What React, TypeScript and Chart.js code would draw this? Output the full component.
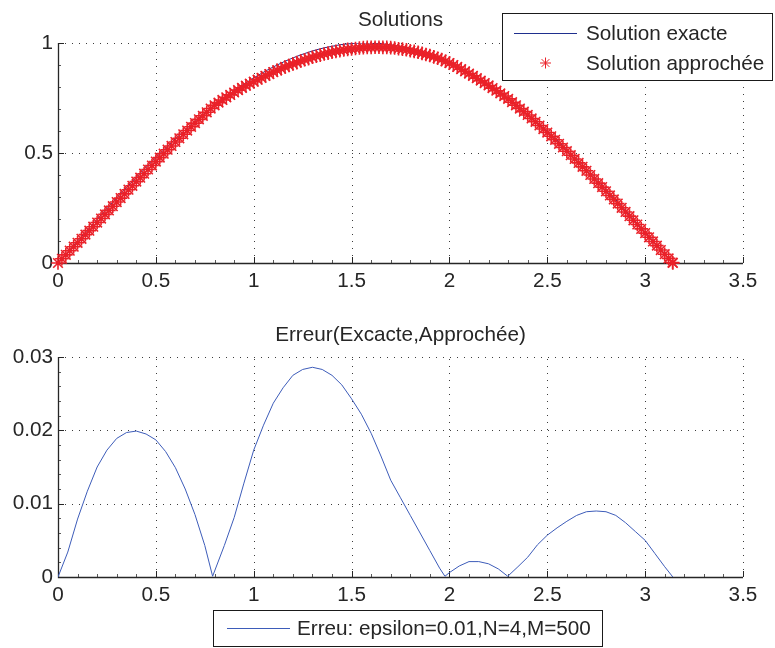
import React, { useEffect, useRef } from 'react';
import { Chart, registerables } from 'chart.js';

Chart.register(...registerables);

// ---------- data ----------
// exact solution (blue line)
const solX = [
  0, 0.04, 0.08, 0.12, 0.16, 0.2, 0.24, 0.28, 0.32, 0.36, 0.4, 0.44, 0.48, 0.52, 0.56, 0.6,
  0.64, 0.68, 0.72, 0.76, 0.8, 0.84, 0.88, 0.92, 0.96, 1.0, 1.04, 1.08, 1.12, 1.16, 1.2,
  1.24, 1.28, 1.32, 1.36, 1.4, 1.44, 1.48, 1.52, 1.56, 1.6, 1.64, 1.68, 1.72, 1.76, 1.8,
  1.84, 1.88, 1.92, 1.96, 2.0, 2.04, 2.08, 2.12, 2.16, 2.2, 2.24, 2.28, 2.32, 2.36, 2.4,
  2.44, 2.48, 2.52, 2.56, 2.6, 2.64, 2.68, 2.72, 2.76, 2.8, 2.84, 2.88, 2.92, 2.96, 3.0,
  3.04, 3.08, 3.12, 3.1416,
];
const exactY = [
  0, 0.04, 0.08, 0.12, 0.159, 0.199, 0.238, 0.276, 0.315, 0.352, 0.389, 0.426, 0.462, 0.497, 0.531, 0.565,
  0.597, 0.629, 0.659, 0.689, 0.717, 0.745, 0.771, 0.796, 0.819, 0.841, 0.862, 0.882, 0.9, 0.917, 0.932,
  0.946, 0.958, 0.969, 0.978, 0.985, 0.992, 0.996, 0.999, 1.0, 1.0, 0.998, 0.994, 0.989, 0.982, 0.974,
  0.964, 0.953, 0.94, 0.925, 0.909, 0.892, 0.873, 0.853, 0.831, 0.808, 0.784, 0.759, 0.732, 0.704, 0.675,
  0.645, 0.614, 0.583, 0.55, 0.516, 0.482, 0.446, 0.411, 0.374, 0.335, 0.297, 0.259, 0.219, 0.18, 0.141,
  0.101, 0.062, 0.022, 0,
];

// approximate solution (red asterisks)
const approxX = [
  0, 0.02, 0.04, 0.06, 0.08, 0.1, 0.12, 0.14, 0.16, 0.18, 0.2, 0.22, 0.24, 0.26, 0.28, 0.3,
  0.32, 0.34, 0.36, 0.38, 0.4, 0.42, 0.44, 0.46, 0.48, 0.5, 0.52, 0.54, 0.56, 0.58, 0.6,
  0.62, 0.64, 0.66, 0.68, 0.7, 0.72, 0.74, 0.76, 0.78, 0.8, 0.82, 0.84, 0.86, 0.88, 0.9,
  0.92, 0.94, 0.96, 0.98, 1.0, 1.02, 1.04, 1.06, 1.08, 1.1, 1.12, 1.14, 1.16, 1.18, 1.2,
  1.22, 1.24, 1.26, 1.28, 1.3, 1.32, 1.34, 1.36, 1.38, 1.4, 1.42, 1.44, 1.46, 1.48, 1.5,
  1.52, 1.54, 1.56, 1.58, 1.6, 1.62, 1.64, 1.66, 1.68, 1.7, 1.72, 1.74, 1.76, 1.78, 1.8,
  1.82, 1.84, 1.86, 1.88, 1.9, 1.92, 1.94, 1.96, 1.98, 2.0, 2.02, 2.04, 2.06, 2.08, 2.1,
  2.12, 2.14, 2.16, 2.18, 2.2, 2.22, 2.24, 2.26, 2.28, 2.3, 2.32, 2.34, 2.36, 2.38, 2.4,
  2.42, 2.44, 2.46, 2.48, 2.5, 2.52, 2.54, 2.56, 2.58, 2.6, 2.62, 2.64, 2.66, 2.68, 2.7,
  2.72, 2.74, 2.76, 2.78, 2.8, 2.82, 2.84, 2.86, 2.88, 2.9, 2.92, 2.94, 2.96, 2.98, 3.0,
  3.02, 3.04, 3.06, 3.08, 3.1, 3.12, 3.14, 3.1416,
];
const approxY = [
  0, 0.019, 0.037, 0.056, 0.074, 0.092, 0.11, 0.129, 0.147, 0.165, 0.184, 0.202, 0.221, 0.239, 0.258, 0.277,
  0.295, 0.314, 0.333, 0.351, 0.37, 0.388, 0.406, 0.425, 0.443, 0.461, 0.479, 0.497, 0.515, 0.532, 0.55,
  0.567, 0.585, 0.602, 0.619, 0.636, 0.653, 0.669, 0.685, 0.702, 0.717, 0.729, 0.741, 0.753, 0.764, 0.775,
  0.786, 0.796, 0.806, 0.815, 0.824, 0.833, 0.842, 0.851, 0.859, 0.868, 0.876, 0.883, 0.891, 0.898, 0.905,
  0.911, 0.918, 0.924, 0.929, 0.935, 0.94, 0.945, 0.95, 0.954, 0.958, 0.962, 0.965, 0.968, 0.971, 0.973,
  0.975, 0.977, 0.979, 0.98, 0.98, 0.981, 0.981, 0.98, 0.98, 0.979, 0.977, 0.974, 0.972, 0.969, 0.965,
  0.962, 0.958, 0.953, 0.948, 0.943, 0.937, 0.931, 0.925, 0.917, 0.909, 0.9, 0.891, 0.881, 0.871, 0.861,
  0.851, 0.84, 0.829, 0.818, 0.807, 0.795, 0.783, 0.771, 0.759, 0.746, 0.731, 0.717, 0.702, 0.688, 0.673,
  0.657, 0.642, 0.625, 0.609, 0.593, 0.576, 0.56, 0.542, 0.525, 0.508, 0.49, 0.473, 0.455, 0.437, 0.419,
  0.4, 0.382, 0.363, 0.345, 0.326, 0.307, 0.289, 0.27, 0.251, 0.232, 0.213, 0.194, 0.175, 0.155, 0.136,
  0.117, 0.098, 0.079, 0.059, 0.04, 0.021, 0.002, 0,
];

// error curve (bottom panel)
const errX = [
  0, 0.05, 0.1, 0.15, 0.2, 0.25, 0.3, 0.35, 0.4, 0.45, 0.5, 0.55, 0.6, 0.65, 0.7, 0.75, 0.79,
  0.85, 0.9, 0.95, 1.0, 1.05, 1.1, 1.15, 1.2, 1.25, 1.3, 1.35, 1.4, 1.45, 1.5, 1.55, 1.6, 1.65,
  1.7, 1.75, 1.8, 1.85, 1.9, 1.95, 1.977, 2.0, 2.05, 2.1, 2.15, 2.2, 2.25, 2.298, 2.35, 2.4,
  2.45, 2.5, 2.55, 2.6, 2.65, 2.7, 2.75, 2.8, 2.85, 2.9, 2.95, 3.0, 3.05, 3.1, 3.1416,
];
const errY = [
  0, 0.0034, 0.0079, 0.0117, 0.015, 0.0173, 0.0189, 0.0197, 0.0199, 0.0195, 0.0187, 0.0171, 0.0149, 0.012, 0.0085, 0.0043, 0.0001,
  0.0043, 0.0081, 0.0128, 0.0173, 0.0207, 0.0237, 0.0258, 0.0275, 0.0283, 0.0286, 0.0283, 0.0275, 0.0262, 0.0243, 0.0222, 0.0196, 0.0165,
  0.0132, 0.0108, 0.0084, 0.006, 0.0036, 0.0012, 0.0001, 0.0006, 0.0015, 0.0021, 0.0021, 0.0018, 0.0011, 0.0001, 0.0014, 0.0027,
  0.0044, 0.0057, 0.0067, 0.0076, 0.0084, 0.0089, 0.009, 0.0089, 0.0084, 0.0074, 0.0062, 0.005, 0.0032, 0.0014, 0,
];

const xRange = [0, 3.5];
const xStep = 0.5;
const topYRange = [0, 1];
const topYStep = 0.5;
const botYRange = [0, 0.03];
const botYStep = 0.01;

const topTitle = 'Solutions';
const botTitle = 'Erreur(Excacte,Approchée)';
const topLegend = ['Solution exacte', 'Solution approchée'];
const botLegend = ['Erreu: epsilon=0.01,N=4,M=500'];

// ---------- styling ----------
const FONT = '"Liberation Sans", Arial, Helvetica, sans-serif';
const FS = 20.7;
const TXT = '#262626';
const AXIS = '#262626';
const GRID = '#3c3c3c';
const BLUE_TOP = '#1f2f8e';
const BLUE_BOT = '#3d5cb9';
const RED = '#ea2129';

const fmt = (v: number) => String(Number(Number(v).toFixed(4)));

function drawStar(ctx: CanvasRenderingContext2D, cx: number, cy: number, r: number) {
  ctx.beginPath();
  ctx.moveTo(cx - r, cy); ctx.lineTo(cx + r, cy);
  ctx.moveTo(cx, cy - r); ctx.lineTo(cx, cy + r);
  const d = r * Math.SQRT1_2;
  ctx.moveTo(cx - d, cy - d); ctx.lineTo(cx + d, cy + d);
  ctx.moveTo(cx - d, cy + d); ctx.lineTo(cx + d, cy - d);
  ctx.stroke();
}

type LegendItem = { label: string; kind: 'line' | 'star'; color: string };
type DecorCfg = {
  id: string;
  title: string;
  titleBaseline: number;
  xMinor: number;
  yMinor: number;
  legendBox: [number, number, number, number];
  sampleX: [number, number];
  textX: number;
  rowsY: number[];
  items: LegendItem[];
};

function makeDecor(cfg: DecorCfg) {
  return {
    id: cfg.id,
    beforeDatasetsDraw(chart: any) {
      const { ctx, chartArea } = chart;
      const { left, right, top, bottom } = chartArea;
      const xs = chart.scales.x;
      const ys = chart.scales.y;
      ctx.save();
      // dotted grid
      ctx.strokeStyle = GRID;
      ctx.lineWidth = 1;
      ctx.setLineDash([1, 6]);
      xs.ticks.forEach((t: any) => {
        if (t.value <= xs.min) return;
        const px = Math.round(xs.getPixelForValue(t.value)) + 0.5;
        ctx.beginPath(); ctx.moveTo(px, bottom); ctx.lineTo(px, top); ctx.stroke();
      });
      ys.ticks.forEach((t: any) => {
        if (t.value <= ys.min) return;
        const py = Math.round(ys.getPixelForValue(t.value)) + 0.5;
        ctx.beginPath(); ctx.moveTo(left, py); ctx.lineTo(right, py); ctx.stroke();
      });
      ctx.setLineDash([]);
      // minor ticks
      ctx.strokeStyle = '#5a5a5a';
      const nx = Math.round((xs.max - xs.min) / cfg.xMinor);
      for (let i = 1; i < nx; i++) {
        const v = xs.min + i * cfg.xMinor;
        const px = Math.round(xs.getPixelForValue(v)) + 0.5;
        ctx.beginPath(); ctx.moveTo(px, bottom); ctx.lineTo(px, bottom - 3); ctx.stroke();
      }
      const ny = Math.round((ys.max - ys.min) / cfg.yMinor);
      for (let i = 1; i < ny; i++) {
        const v = ys.min + i * cfg.yMinor;
        const py = Math.round(ys.getPixelForValue(v)) + 0.5;
        ctx.beginPath(); ctx.moveTo(left, py); ctx.lineTo(left + 3, py); ctx.stroke();
      }
      // major ticks
      ctx.strokeStyle = AXIS;
      xs.ticks.forEach((t: any) => {
        const px = Math.round(xs.getPixelForValue(t.value)) + 0.5;
        ctx.beginPath(); ctx.moveTo(px, bottom); ctx.lineTo(px, bottom - 6); ctx.stroke();
      });
      ys.ticks.forEach((t: any) => {
        const py = Math.round(ys.getPixelForValue(t.value)) + 0.5;
        ctx.beginPath(); ctx.moveTo(left, py); ctx.lineTo(left + 6, py); ctx.stroke();
      });
      // axes lines (left, bottom)
      ctx.lineWidth = 1.3;
      ctx.beginPath();
      ctx.moveTo(Math.round(left) + 0.5, top);
      ctx.lineTo(Math.round(left) + 0.5, Math.round(bottom) + 0.5);
      ctx.lineTo(right, Math.round(bottom) + 0.5);
      ctx.stroke();
      ctx.restore();
    },
    afterDraw(chart: any) {
      const { ctx, chartArea } = chart;
      ctx.save();
      ctx.font = `${FS}px ${FONT}`;
      ctx.fillStyle = TXT;
      ctx.textAlign = 'center';
      ctx.textBaseline = 'alphabetic';
      ctx.fillText(cfg.title, (chartArea.left + chartArea.right) / 2, cfg.titleBaseline);
      // legend box
      const [bl, bt, br, bb] = cfg.legendBox;
      ctx.fillStyle = '#ffffff';
      ctx.fillRect(bl, bt, br - bl, bb - bt);
      ctx.strokeStyle = '#1a1a1a';
      ctx.lineWidth = 1;
      ctx.strokeRect(bl + 0.5, bt + 0.5, br - bl, bb - bt);
      cfg.items.forEach((it, i) => {
        const ry = cfg.rowsY[i];
        ctx.strokeStyle = it.color;
        ctx.lineWidth = 1;
        if (it.kind === 'line') {
          ctx.beginPath();
          ctx.moveTo(cfg.sampleX[0], ry + 0.5);
          ctx.lineTo(cfg.sampleX[1], ry + 0.5);
          ctx.stroke();
        } else {
          drawStar(ctx, (cfg.sampleX[0] + cfg.sampleX[1]) / 2, ry, 5.5);
        }
        ctx.fillStyle = TXT;
        ctx.textAlign = 'left';
        ctx.textBaseline = 'middle';
        ctx.fillText(it.label, cfg.textX, ry + 1);
      });
      ctx.restore();
    },
  };
}

function scaleOpts(range: number[], step: number, axis: 'x' | 'y', size: number) {
  return {
    type: 'linear' as const,
    min: range[0],
    max: range[1],
    grid: { display: false, drawTicks: false },
    border: { display: false },
    ticks: {
      stepSize: step,
      autoSkip: false,
      maxRotation: 0,
      padding: axis === 'x' ? 6 : 5,
      color: TXT,
      font: { family: FONT, size: FS },
      callback: (v: any) => fmt(v),
    },
    afterFit: (s: any) => {
      if (axis === 'x') s.height = size;
      else s.width = size;
    },
  };
}

export default function App() {
  const topRef = useRef<HTMLCanvasElement>(null);
  const botRef = useRef<HTMLCanvasElement>(null);

  useEffect(() => {
    const exactData = solX.map((x, i) => ({ x, y: exactY[i] }));
    const approxData = approxX.map((x, i) => ({ x, y: approxY[i] }));
    const errData = errX.map((x, i) => ({ x, y: errY[i] }));

    const top = new Chart(topRef.current as HTMLCanvasElement, {
      type: 'scatter',
      data: {
        datasets: [
          {
            label: topLegend[0],
            data: exactData,
            showLine: true,
            borderColor: BLUE_TOP,
            borderWidth: 1,
            pointRadius: 0,
            order: 2,
          },
          {
            label: topLegend[1],
            data: approxData,
            showLine: false,
            pointStyle: 'star',
            pointRadius: 6.8,
            pointBorderWidth: 1.6,
            borderColor: RED,
            backgroundColor: RED,
            clip: false,
            order: 1,
          } as any,
        ],
      },
      options: {
        responsive: false,
        animation: false,
        events: [],
        layout: { padding: { left: 0, right: 32, top: 43, bottom: 0 } },
        plugins: { legend: { display: false }, tooltip: { enabled: false }, title: { display: false } },
        scales: {
          x: scaleOpts(xRange, xStep, 'x', 37),
          y: scaleOpts(topYRange, topYStep, 'y', 58),
        } as any,
      },
      plugins: [
        makeDecor({
          id: 'decorTop',
          title: topTitle,
          titleBaseline: 26,
          xMinor: 0.1,
          yMinor: 0.1,
          legendBox: [502, 13, 772, 80],
          sampleX: [514, 577],
          textX: 586,
          rowsY: [33, 63],
          items: [
            { label: topLegend[0], kind: 'line', color: BLUE_TOP },
            { label: topLegend[1], kind: 'star', color: RED },
          ],
        }),
      ],
    });

    const bot = new Chart(botRef.current as HTMLCanvasElement, {
      type: 'scatter',
      data: {
        datasets: [
          {
            label: botLegend[0],
            data: errData,
            showLine: true,
            borderColor: BLUE_BOT,
            borderWidth: 1,
            pointRadius: 0,
          },
        ],
      },
      options: {
        responsive: false,
        animation: false,
        events: [],
        layout: { padding: { left: 0, right: 32, top: 57, bottom: 0 } },
        plugins: { legend: { display: false }, tooltip: { enabled: false }, title: { display: false } },
        scales: {
          x: scaleOpts(xRange, xStep, 'x', 71),
          y: scaleOpts(botYRange, botYStep, 'y', 58),
        } as any,
      },
      plugins: [
        makeDecor({
          id: 'decorBot',
          title: botTitle,
          titleBaseline: 41,
          xMinor: 0.1,
          yMinor: 0.002,
          legendBox: [213, 310, 602, 346],
          sampleX: [227, 290],
          textX: 297,
          rowsY: [328],
          items: [{ label: botLegend[0], kind: 'line', color: BLUE_BOT }],
        }),
      ],
    });

    return () => {
      top.destroy();
      bot.destroy();
    };
  }, []);

  return (
    <div style={{ position: 'fixed', left: 0, top: 0, width: 775, height: 648, background: '#ffffff' }}>
      <canvas ref={topRef} width={775} height={300} style={{ position: 'absolute', left: 0, top: 0 }} />
      <canvas ref={botRef} width={775} height={348} style={{ position: 'absolute', left: 0, top: 300 }} />
    </div>
  );
}
